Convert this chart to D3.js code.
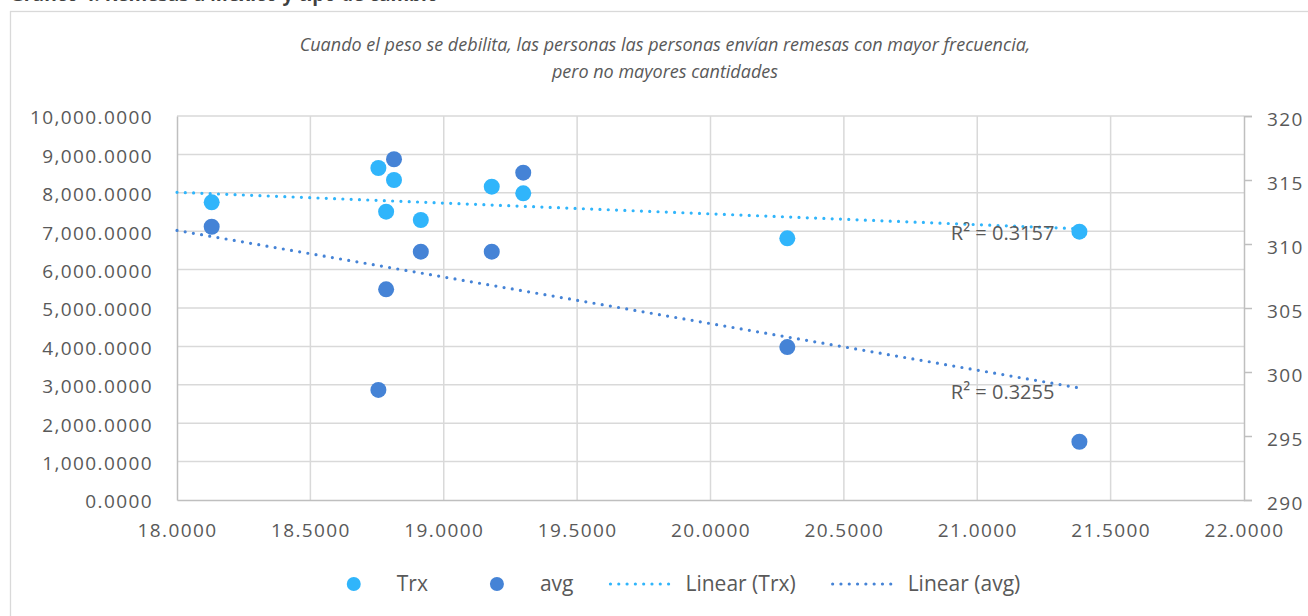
<!DOCTYPE html>
<html>
<head>
<meta charset="utf-8">
<script src="https://cdn.jsdelivr.net/npm/d3@7"></script>
<style>
  body { margin: 0; background: #fff; }
  svg { display: block; font-family: "Open Sans", sans-serif; }
</style>
</head>
<body>
<svg id="chart"></svg>
<script>
var w = 1308;
var h = 616;

var title = "Gráfico 4. Remesas a México y tipo de cambio";
var subtitle = ["Cuando el peso se debilita, las personas las personas envían remesas con mayor frecuencia,",
                "pero no mayores cantidades"];

// tipo de cambio (x), transacciones (eje izq.), promedio (eje der.)
var rate = [18.130, 18.755, 18.784, 18.8135, 18.914, 19.180, 19.298, 20.288, 21.383];
var trx  = [7753, 8646, 7508, 8333, 7292, 8159, 7987, 6815, 6987];
var avg  = [311.35, 298.6, 306.46, 316.62, 309.4, 309.4, 315.57, 301.95, 294.55];

// lineas de tendencia tal como salen en la figura
var trendX   = [18.0, 21.383];
var trxTrend = [8013, 7063];
var avgTrend = [311.06, 298.75];
var r2Labels = ["R² = 0.3157", "R² = 0.3255"];

var xTicks  = [18, 18.5, 19, 19.5, 20, 20.5, 21, 21.5, 22];
var yTicks  = d3.range(0, 10001, 1000);
var y2Ticks = [290, 295, 300, 305, 310, 315, 320];
var legendNames = ["Trx", "avg", "Linear (Trx)", "Linear (avg)"];

var cTrx = "#30b5fb";
var cAvg = "#4583d6";
var cText = "#595959";
var cGrid = "#d9d9d9";
var cAxis = "#bfbfbf";

var pLeft = 177, pRight = 1244, pTop = 116, pBottom = 500;

var x  = d3.scaleLinear().domain([18, 22]).range([pLeft, pRight]);
var y  = d3.scaleLinear().domain([0, 10000]).range([pBottom, pTop]);
var y2 = d3.scaleLinear().domain([290, 320]).range([pBottom, pTop]);

var svg = d3.select("#chart").attr("width", w).attr("height", h);

svg.append("rect")
  .attr("x", 10.5).attr("y", 11.5)
  .attr("width", w).attr("height", h)
  .attr("fill", "none").attr("stroke", cGrid).attr("stroke-width", 1.3);

svg.append("text")
  .attr("x", 10).attr("y", 0.5)
  .attr("font-size", 19).attr("font-weight", "bold")
  .attr("fill", "#404040")
  .text(title);

svg.selectAll("text.sub")
  .data(subtitle)
  .enter()
  .append("text")
  .attr("class", "sub")
  .attr("x", 665)
  .attr("y", function(d, i){ return 51 + i*27; })
  .attr("text-anchor", "middle")
  .attr("font-size", 18).attr("font-style", "italic")
  .attr("fill", cText)
  .text(function(d){ return d; });

// gridlines
svg.append("g")
  .selectAll("line")
  .data(yTicks.slice(1))
  .enter()
  .append("line")
  .attr("x1", pLeft).attr("x2", pRight)
  .attr("y1", function(d){ return y(d); })
  .attr("y2", function(d){ return y(d); })
  .attr("stroke", cGrid).attr("stroke-width", 1.5);

svg.append("g")
  .selectAll("line")
  .data(xTicks.slice(1, -1))
  .enter()
  .append("line")
  .attr("x1", function(d){ return x(d); })
  .attr("x2", function(d){ return x(d); })
  .attr("y1", pTop).attr("y2", pBottom)
  .attr("stroke", cGrid).attr("stroke-width", 1.5);

// axes
var axL = svg.append("g")
  .attr("transform", "translate(" + pLeft + ",0)")
  .call(d3.axisLeft(y).tickValues(yTicks).tickSize(0).tickPadding(24).tickFormat(d3.format(",.4f")));

var axB = svg.append("g")
  .attr("transform", "translate(0," + pBottom + ")")
  .call(d3.axisBottom(x).tickValues(xTicks).tickSize(0).tickPadding(32).tickFormat(d3.format(".4f")));

var axR = svg.append("g")
  .attr("transform", "translate(" + pRight + ",0)")
  .call(d3.axisRight(y2).tickValues(y2Ticks).tickSize(8).tickPadding(15).tickFormat(d3.format("d")));

[axL, axB, axR].forEach(function(a){
  a.select(".domain").attr("stroke", cAxis).attr("stroke-width", 1.5);
  a.selectAll(".tick line").attr("stroke", cAxis).attr("stroke-width", 1.5);
  a.selectAll("text")
    .attr("fill", cText)
    .attr("font-size", 19)
    .attr("letter-spacing", 1.4)
    .attr("font-family", "'Open Sans', sans-serif");
});
axL.selectAll("text").attr("dy", "0.42em");
axR.selectAll("text").attr("dy", "0.48em");
axB.selectAll("text").attr("dy", "0.25em");

// trendlines
var trend = d3.line()
  .x(function(d){ return x(d[0]); })
  .y(function(d){ return d[2](d[1]); });

var trends = [
  {color: cTrx, pts: trendX.map(function(v, i){ return [v, trxTrend[i], y]; }), label: r2Labels[0]},
  {color: cAvg, pts: trendX.map(function(v, i){ return [v, avgTrend[i], y2]; }), label: r2Labels[1]}
];

svg.append("g")
  .selectAll("path")
  .data(trends)
  .enter()
  .append("path")
  .attr("d", function(d){ return trend(d.pts); })
  .attr("fill", "none")
  .attr("stroke", function(d){ return d.color; })
  .attr("stroke-width", 3.2)
  .attr("stroke-linecap", "round")
  .attr("stroke-dasharray", "0 8.3");

// points
svg.append("g")
  .selectAll("circle")
  .data(rate)
  .enter()
  .append("circle")
  .attr("cx", function(d){ return x(d); })
  .attr("cy", function(d, i){ return y(trx[i]); })
  .attr("r", 8)
  .attr("fill", cTrx);

svg.append("g")
  .selectAll("circle")
  .data(rate)
  .enter()
  .append("circle")
  .attr("cx", function(d){ return x(d); })
  .attr("cy", function(d, i){ return y2(avg[i]); })
  .attr("r", 8)
  .attr("fill", cAvg);

// R² labels, next to the end of each trendline
svg.append("g")
  .selectAll("text")
  .data(trends)
  .enter()
  .append("text")
  .attr("x", function(d){ var p = d.pts[1]; return x(p[0]) - 25; })
  .attr("y", function(d){ var p = d.pts[1]; return p[2](p[1]) + 11; })
  .attr("text-anchor", "end")
  .attr("font-size", 20)
  .attr("fill", cText)
  .text(function(d){ return d.label; });

// legend
var lg = svg.append("g").attr("transform", "translate(0,584)");
var items = lg.selectAll("g")
  .data(legendNames)
  .enter()
  .append("g");

items.append("text")
  .attr("x", 77)
  .attr("y", 0)
  .attr("dy", "0.35em")
  .attr("font-size", 21)
  .attr("fill", cText)
  .text(function(d){ return d; });

items.each(function(d, i){
  var g = d3.select(this);
  var col = (i % 2 == 0) ? cTrx : cAvg;
  if(i < 2){
    g.append("circle").attr("cx", 34).attr("cy", 0).attr("r", 7).attr("fill", col);
  } else {
    g.append("line")
      .attr("x1", 2).attr("x2", 68)
      .attr("y1", 0).attr("y2", 0)
      .attr("stroke", col)
      .attr("stroke-width", 3.2)
      .attr("stroke-linecap", "round")
      .attr("stroke-dasharray", "0 8.3");
  }
});

var widths = [];
items.select("text").each(function(){ widths.push(77 + this.getComputedTextLength()); });
var gap = 35;
var total = d3.sum(widths) + gap*(widths.length - 1);
var pos = 670 - total/2;
items.attr("transform", function(d, i){
  var t = "translate(" + pos + ",0)";
  pos += widths[i] + gap;
  return t;
});
</script>
</body>
</html>
